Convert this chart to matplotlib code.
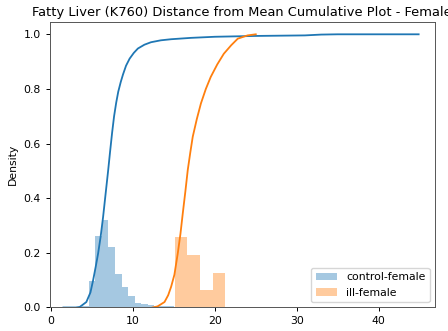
import numpy as np
import matplotlib
matplotlib.use("Agg")
import matplotlib.pyplot as plt

# histogram bins / densities
control_edges = [3.0, 3.8, 4.6, 5.4, 6.2, 7.0, 7.8, 8.6, 9.4, 10.2, 11.0, 11.8, 12.6, 13.4, 14.2, 15.0]
control_density = [0.001, 0.004, 0.097, 0.261, 0.320, 0.222, 0.121, 0.076, 0.042, 0.018, 0.012, 0.008, 0.006, 0.005, 0.004]

ill_edges = [15.1, 16.65, 18.2, 19.75, 21.3]
ill_density = [0.259, 0.192, 0.064, 0.127]

# cumulative kde curves
control_cdf_x = [1.5, 3.0, 3.5, 4.3, 4.8, 5.13, 5.45, 5.74, 6.05, 6.35, 6.65, 6.96, 7.2, 7.45, 7.69,
                 7.95, 8.2, 8.5, 8.78, 9.15, 9.59, 10.1, 10.6, 11.4, 12.2, 13.4, 14.66, 17.1, 20.0,
                 25.0, 31.0, 33.0, 35.0, 44.9]
control_cdf_y = [0.0, 0.0, 0.002, 0.02, 0.055, 0.10, 0.15, 0.198, 0.26, 0.332, 0.415, 0.50, 0.57, 0.64, 0.70,
                 0.75, 0.79, 0.825, 0.853, 0.885, 0.911, 0.932, 0.948, 0.962, 0.971, 0.978, 0.982, 0.987, 0.991,
                 0.994, 0.996, 0.999, 1.0, 1.0]

ill_cdf_x = [12.4, 13.0, 13.85, 14.3, 14.66, 15.06, 15.47, 15.8, 16.08, 16.4, 16.69, 17.0, 17.3, 17.8,
             18.3, 18.9, 19.5, 20.3, 21.1, 22.0, 22.8, 24.0, 25.0]
ill_cdf_y = [0.0, 0.004, 0.02, 0.045, 0.076, 0.12, 0.198, 0.27, 0.344, 0.425, 0.503, 0.567, 0.625, 0.69,
             0.747, 0.80, 0.844, 0.89, 0.929, 0.96, 0.984, 0.996, 1.0]

plt.rcParams['font.size'] = 7.8
fig = plt.figure(figsize=(4.48, 3.31), dpi=100)
ax = fig.add_axes([0.1105, 0.071, 0.8605, 0.8625])

# histograms (weights = density of each bin, one sample per bin centre)
c_centers = (np.array(control_edges[:-1]) + np.array(control_edges[1:])) / 2
i_centers = (np.array(ill_edges[:-1]) + np.array(ill_edges[1:])) / 2
ax.hist(c_centers, bins=control_edges, weights=control_density, color='C0', alpha=0.4, label='control-female')
ax.hist(i_centers, bins=ill_edges, weights=ill_density, color='C1', alpha=0.4, label='ill-female')

ax.plot(control_cdf_x, control_cdf_y, color='C0', lw=1.3)
ax.plot(ill_cdf_x, ill_cdf_y, color='C1', lw=1.3)

ax.set_xlim(-0.2, 46.9)
ax.set_ylim(0, 1.045)
ax.set_ylabel('Density')
ax.set_title('Fatty Liver (K760) Distance from Mean Cumulative Plot - Female', fontsize=9.4, pad=4.3)
ax.tick_params(length=2.7, width=0.7)
for s in ax.spines.values():
    s.set_linewidth(0.7)
    s.set_color('#555555')
ax.legend(loc='lower right')

fig.savefig('out.png', dpi=100)
